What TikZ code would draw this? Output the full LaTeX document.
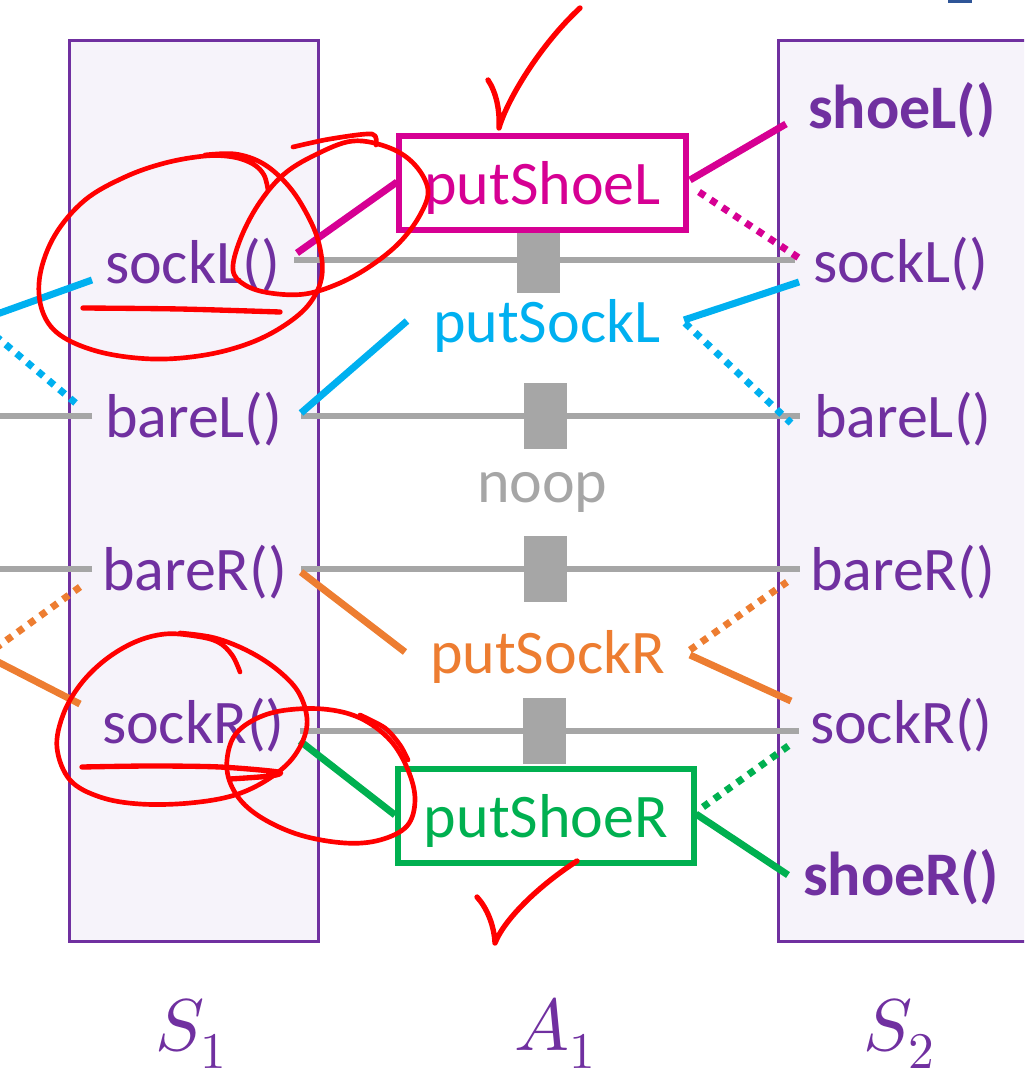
\documentclass[tikz,border=0pt]{standalone}
\usepackage{fontspec}
\usepackage{unicode-math}
\setmainfont{Carlito}
\setmathfont{Latin Modern Math}
\usetikzlibrary{calc}

\definecolor{stpurple}{HTML}{7030A0}
\definecolor{boxfill}{HTML}{F6F3FA}
\definecolor{actmag}{HTML}{D60093}
\definecolor{actcyan}{HTML}{00B0F0}
\definecolor{actorange}{HTML}{ED7D31}
\definecolor{actgreen}{HTML}{00B050}
\definecolor{trgray}{HTML}{A6A6A6}
\definecolor{inkred}{HTML}{FF0000}
\definecolor{fragblue}{HTML}{2F5597}

\begin{document}
\begin{tikzpicture}[x=0.75pt,y=-0.75pt,
  bigfont/.style={font=\fontsize{46.5}{50}\selectfont},
  lbl/.style={anchor=base west, inner sep=0pt, outer sep=0pt, text=stpurple, bigfont},
  lblb/.style={lbl, font=\fontsize{46.5}{50}\selectfont\bfseries},
  act/.style={anchor=base west, inner sep=0pt, outer sep=0pt, bigfont},
  actbox/.style={draw, line width=4.5pt, fill=white, inner sep=0pt, outer sep=0pt,
    text height=41pt, text depth=9.3pt, minimum height=70.5pt, bigfont},
  statebox/.style={draw=stpurple, fill=boxfill, line width=2.25pt, inner sep=0pt,
    outer sep=0pt, minimum height=675.75pt},
  trline/.style={draw=trgray, line width=4.5pt},
  blk/.style={fill=trgray, inner sep=0pt, outer sep=0pt,
    minimum width=32.25pt, minimum height=49.5pt},
  conn/.style={line width=5.25pt},
  dotconn/.style={line width=5.25pt, dash pattern=on 5.25pt off 5.25pt},
  redink/.style={draw=inkred, line width=3.5pt, line cap=round, line join=round},
  mathlbl/.style={anchor=base, inner sep=0pt, text=stpurple,
    font=\fontsize{55}{58}\selectfont},
]
\useasboundingbox (0,0) rectangle (1024,1081);
\clip (0,0) rectangle (1024,1081);

% state columns
\node[statebox, minimum width=186.4pt] (s1box) at (194.25,491) {};
\node[statebox, minimum width=196.5pt] (s2box) at (909,491) {};
\fill[fragblue] (948,0) rectangle (972,3.5);

% propositions of S1
\node[lbl] (s1sockL) at (105,283) {sockL()};
\node[lbl] (s1bareL) at (105,437) {bareL()};
\node[lbl] (s1bareR) at (102,590) {bareR()};
\node[lbl] (s1sockR) at (102,743) {sockR()};

% propositions of S2
\node[lblb] (s2shoeL) at (808,128) {shoeL()};
\node[lbl] (s2sockL) at (813,282) {sockL()};
\node[lbl] (s2bareL) at (814,437) {bareL()};
\node[lbl] (s2bareR) at (810,590) {bareR()};
\node[lbl] (s2sockR) at (810,743) {sockR()};
\node[lblb] (s2shoeR) at (803,895) {shoeR()};

% noop blocks
\node[blk] (blk1) at (538.5,260) {};
\node[blk] (blk2) at (545,416) {};
\node[blk] (blk3) at (545,568.5) {};
\node[blk] (blk4) at (544.5,731) {};

% loose ends leaving on the left
\coordinate (w2) at (-5,416);
\coordinate (w3) at (-5,568.5);
\coordinate (wc1) at (-5,314.8);
\coordinate (wc2) at (-5,335.5);
\coordinate (wo1) at (-5,648.6);
\coordinate (wo2) at (-5,660.4);

% noop persistence lines
\draw[trline] ($(s1sockL.base west)+(189,-23)$) -- (blk1) -- ($(s2sockL.base west)+(-18,-22)$);
\draw[trline] ($(s1bareL.base west)+(196,-21)$) -- (blk2) -- ($(s2bareL.base west)+(-14,-21)$);
\draw[trline] ($(s1bareR.base west)+(199,-21.5)$) -- (blk3) -- ($(s2bareR.base west)+(-10,-21.5)$);
\draw[trline] ($(s1sockR.base west)+(198,-12)$) -- (blk4) -- ($(s2sockR.base west)+(-11,-12)$);
\draw[trline] ($(s1bareL.base west)+(-13,-21)$) -- (w2);
\draw[trline] ($(s1bareR.base west)+(-10,-21.5)$) -- (w3);

% actions
\node[actbox, draw=actmag, text=actmag, minimum width=215.25pt] (putShoeL) at (542.5,183) {putShoeL};
\node[act, text=actcyan] (putSockL) at (433,342) {putSockL};
\node[act, text=trgray] (noop) at (477,502) {noop};
\node[act, text=actorange] (putSockR) at (430,673) {putSockR};
\node[actbox, draw=actgreen, text=actgreen, minimum width=222pt] (putShoeR) at (546,816) {putShoeR};

% putShoeL links
\draw[conn, actmag] ($(s1sockL.base west)+(192,-30)$) -- ($(putShoeL.west)+(-2,-1)$);
\draw[conn, actmag] ($(putShoeL.east)+(4,-3)$) -- ($(s2shoeL.base west)+(-22,-4)$);
\draw[dotconn, actmag] ($(putShoeL.east)+(13,9)$) -- ($(s2sockL.base west)+(-14,-24)$);

% putSockL links
\draw[conn, actcyan] ($(s1bareL.base west)+(196,-24)$) -- ($(putSockL.base west)+(-26,-21)$);
\draw[conn, actcyan] ($(putSockL.base west)+(251,-22)$) -- ($(s2sockL.base west)+(-14,0)$);
\draw[dotconn, actcyan] ($(putSockL.base west)+(252,-19)$) -- ($(s2bareL.base west)+(-23,-14)$);
\draw[conn, actcyan] (wc1) -- ($(s1sockL.base west)+(-13,-3)$);
\draw[dotconn, actcyan] (wc2) -- ($(s1bareL.base west)+(-27,-32)$);

% putSockR links
\draw[conn, actorange] ($(s1bareR.base west)+(199,-18)$) -- ($(putSockR.base west)+(-25,-21)$);
\draw[dotconn, actorange] ($(putSockR.base west)+(260,-23)$) -- ($(s2bareR.base west)+(-23,-8)$);
\draw[conn, actorange] ($(putSockR.base west)+(260,-18)$) -- ($(s2sockR.base west)+(-19,-42)$);
\draw[conn, actorange] (wo2) -- ($(s1sockR.base west)+(-22,-39)$);
\draw[dotconn, actorange] (wo1) -- ($(s1bareR.base west)+(-22,-3)$);

% putShoeR links
\draw[conn, actgreen] ($(s1sockR.base west)+(198,-2)$) -- ($(putShoeR.west)+(-3,-1)$);
\draw[conn, actgreen] ($(putShoeR.east)+(2,-2)$) -- ($(s2shoeR.base west)+(-15,-20)$);
\draw[dotconn, actgreen] ($(putShoeR.east)+(9,-9)$) -- ($(s2sockR.base west)+(-19,1)$);

% layer names
\node[mathlbl] (lS1) at (191,1050) {$S_1$};
\node[mathlbl] (lA1) at (555,1050) {$A_1$};
\node[mathlbl] (lS2) at (899,1050) {$S_2$};

% handwritten marks
\draw[redink] plot[smooth, tension=0.6] coordinates {(268,190) (264,175) (253,164) (233,157) (205,156) (165,163) (125,177) (85,200) (55,235) (40,275) (42,310) (60,335) (100,352) (153,359) (205,355) (250,343) (285,325) (310,303) (322,275) (318,240) (303,207) (285,182) (262,163) (235,154) (205,155)};
\draw[redink, line width=4pt] plot[smooth] coordinates {(83,308) (180,309) (280,312)};
\draw[redink] plot[smooth cycle, tension=0.6] coordinates {(233,270) (240,240) (258,205) (283,175) (315,155) (353,141) (390,148) (415,165) (428,190) (420,215) (400,242) (372,265) (340,283) (305,294) (270,293) (245,285)};
\draw[redink] plot[smooth] coordinates {(293,147) (330,139) (372,134) (376,145)};

\draw[redink] plot[smooth, tension=0.6] coordinates {(240,672) (232,655) (218,642) (195,636) (165,634) (135,642) (105,660) (80,685) (63,715) (57,748) (70,780) (100,797) (140,804) (190,803) (235,795) (270,778) (295,755) (307,725) (300,695) (280,672) (250,652) (215,638) (180,633)};
\draw[redink, line width=4pt] plot[smooth] coordinates {(82,767) (150,766) (220,767) (278,772) (270,776) (230,779)};
\draw[redink] plot[smooth cycle, tension=0.6] coordinates {(227,770) (232,740) (250,722) (280,711) (323,709) (360,718) (390,740) (408,770) (415,800) (407,826) (380,840) (345,843) (300,835) (262,818) (238,797)};
\draw[redink] plot[smooth] coordinates {(360,715) (385,728) (400,745) (408,760)};

\draw[redink, line width=4pt] (488,80) .. controls (496,92) and (500,110) .. (499,128)
  .. controls (507,100) and (540,45) .. (580,8);
\draw[redink, line width=4pt] (477,897) .. controls (487,908) and (494,925) .. (495,943)
  .. controls (505,918) and (540,885) .. (577,861);
\end{tikzpicture}
\end{document}
